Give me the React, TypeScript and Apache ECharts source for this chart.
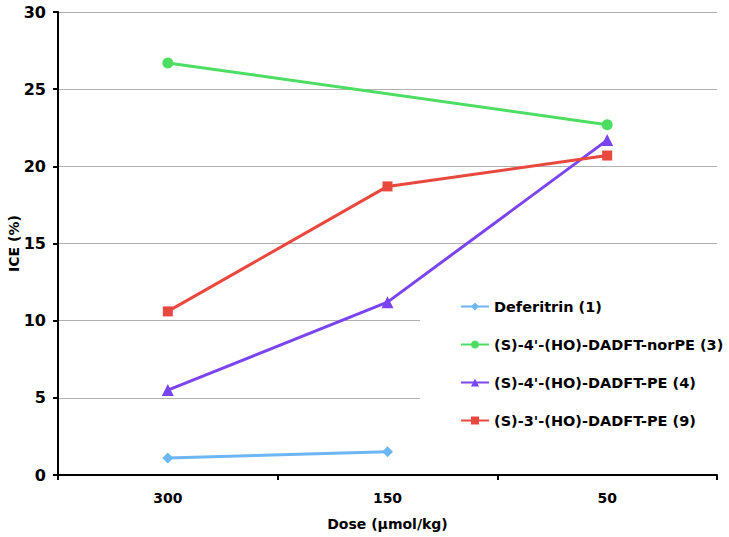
import React, { useEffect, useRef } from "react";
import * as echarts from "echarts";

const categories = ["300", "150", "50"];
const deferitrin = [1.1, 1.5, null];
const norPE3 = [26.7, null, 22.7];
const pe4 = [5.5, 11.2, 21.7];
const pe9 = [10.6, 18.7, 20.7];
const seriesNames = [
  "Deferitrin (1)",
  "(S)-4'-(HO)-DADFT-norPE (3)",
  "(S)-4'-(HO)-DADFT-PE (4)",
  "(S)-3'-(HO)-DADFT-PE (9)",
];

const FONT = "DejaVu Sans, Verdana, sans-serif";

export default function App() {
  const ref = useRef<HTMLDivElement>(null);
  useEffect(() => {
    if (!ref.current) return;
    const chart = echarts.init(ref.current, undefined, { renderer: "svg" });
    const mk = (name: string, data: any[], color: string, symbol: string, size: number) => ({
      name,
      type: "line",
      data,
      connectNulls: true,
      symbol,
      symbolSize: size,
      showSymbol: true,
      lineStyle: { color, width: 3 },
      itemStyle: { color },
    });
    chart.setOption({
      animation: false,
      backgroundColor: "#ffffff",
      textStyle: { fontFamily: FONT },
      grid: { left: 58, right: 12, top: 12, bottom: 62, containLabel: false, outerBoundsMode: "none" },
      legend: {
        orient: "vertical",
        left: 420,
        top: 289,
        padding: [10, 6, 12, 40],
        backgroundColor: "#ffffff",
        itemWidth: 28,
        itemHeight: 10,
        itemGap: 23,
        textStyle: { fontFamily: FONT, fontWeight: "bold", fontSize: 14.5, color: "#000" },
        data: seriesNames,
      },
      xAxis: {
        type: "category",
        data: categories,
        boundaryGap: true,
        name: "Dose (µmol/kg)",
        nameLocation: "middle",
        nameGap: 42,
        nameMoveOverlap: false,
        nameTextStyle: { fontFamily: FONT, fontWeight: "bold", fontSize: 14, color: "#000" },
        axisLine: { lineStyle: { color: "#000", width: 2 } },
        axisTick: { show: true, length: 5, lineStyle: { color: "#000", width: 2 } },
        axisLabel: { fontFamily: FONT, fontWeight: "bold", fontSize: 14, color: "#000", margin: 16 },
        splitLine: { show: false },
      },
      yAxis: {
        type: "value",
        min: 0,
        max: 30,
        interval: 5,
        name: "ICE (%)",
        nameLocation: "middle",
        nameGap: 37,
        nameMoveOverlap: false,
        nameTextStyle: { fontFamily: FONT, fontWeight: "bold", fontSize: 14, color: "#000" },
        axisLine: { show: true, lineStyle: { color: "#000", width: 2 } },
        axisTick: { show: true, length: 5, lineStyle: { color: "#000", width: 2 } },
        axisLabel: { fontFamily: FONT, fontWeight: "bold", fontSize: 16, color: "#000", margin: 12 },
        splitLine: { show: true, lineStyle: { color: "#b0b0b0", width: 1 } },
      },
      series: [
        mk(seriesNames[0], deferitrin, "#6cb6f5", "diamond", 11),
        mk(seriesNames[1], norPE3, "#4ddd62", "circle", 11),
        mk(seriesNames[2], pe4, "#7a45f0", "triangle", 12),
        mk(seriesNames[3], pe9, "#e8483d", "rect", 10),
      ],
    });
    return () => chart.dispose();
  }, []);
  return <div ref={ref} style={{ width: 729, height: 537, position: "absolute", left: 0, top: 0 }} />;
}
